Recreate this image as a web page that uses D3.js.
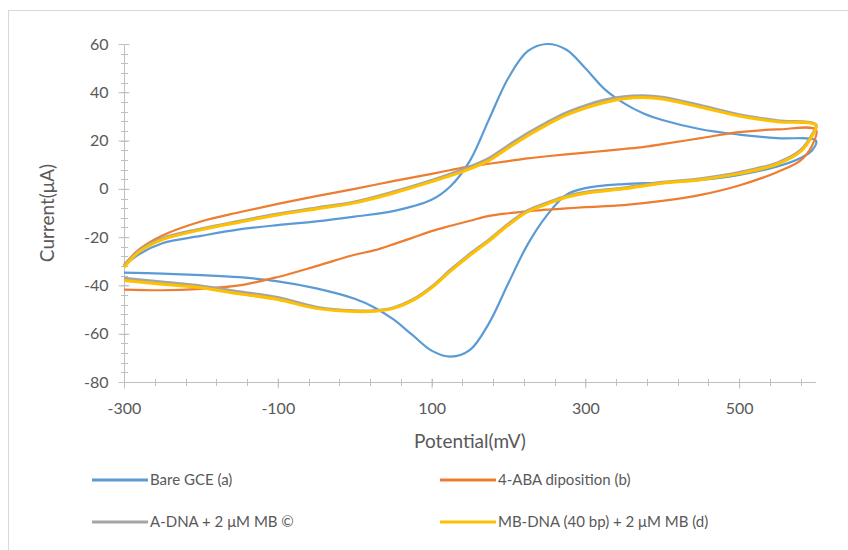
<!DOCTYPE html>
<html>
<head>
<meta charset="utf-8">
<script src="https://cdn.jsdelivr.net/npm/d3@7"></script>
<style>
  body { margin: 0; background: #fff; }
  svg { display: block; }
  text { font-family: Lato, "Open Sans", sans-serif; fill: #595959; }
</style>
</head>
<body>
<svg id="chart" width="848" height="550"></svg>
<script>
// ---- data ----
const fwdPotential = [-300,-280,-250,-200,-150,-100,-50,0,50,100,125,150,175,200,225,250,275,300,325,350,375,400,450,500,550,600];
const revPotential = [595,580,550,500,450,400,350,300,275,250,225,200,175,150,125,100,75,50,25,0,-50,-100,-150,-200,-250,-300];

const bareFwd = [-32,-27,-22.5,-19.5,-16.8,-15,-13.5,-11.5,-9.2,-4.5,1.2,11.7,29,46,57,60,57.7,50,41.3,35.5,31.3,28.5,24.7,22.5,21,20];
const bareRev = [16,12.8,9.3,5.8,3.7,2.6,2,0.3,-2.5,-11,-23,-39,-55.5,-66.7,-69.5,-67,-60.5,-54,-49,-45.5,-41.2,-38.3,-36.6,-35.7,-35.1,-34.7];

const abaFwd = [-31.5,-25,-19.3,-13.5,-9.7,-6.2,-3,0,3.2,6.2,7.8,9.3,10.4,11.5,12.6,13.5,14.3,15,15.7,16.5,17.3,18.5,21,23.5,24.6,24.5];
const abaRev = [18,11.8,7,1.4,-2.5,-5,-6.7,-7.6,-8.1,-8.6,-9.3,-10.1,-11.2,-13.2,-15.3,-17.5,-20.3,-23,-25.5,-27.3,-32,-36.5,-40,-41.4,-42,-41.7];

const adnaFwd = [-32,-25.5,-20.5,-16.6,-13.4,-10.4,-7.9,-5.4,-1.3,3.5,6.2,9.2,12.8,18,23,27.5,31.5,34.5,36.8,38.2,38.6,38,34.5,30.7,28.2,26.5];
const adnaRev = [22.5,16,10.8,6.8,4.2,2.7,0.4,-1.4,-3,-5.8,-9,-14.5,-21,-27,-33.5,-40.6,-46,-49.3,-50.5,-50.5,-49,-45,-42.6,-40.2,-38.6,-37];

const mbFwd = [-32.5,-26,-21,-17,-13.8,-10.8,-8.3,-5.8,-1.8,3,5.5,8.3,11.8,17,22,26.5,30.5,33.5,35.8,37.3,37.8,37.2,33.8,30.2,27.8,26.3];
const mbRev = [22,15.5,10.3,6.3,3.8,2.3,0,-1.8,-3.5,-6.3,-9.5,-15,-21.5,-27.5,-34,-41,-46.3,-49.5,-50.7,-50.8,-49.5,-45.8,-43.5,-41,-39.5,-38];

const seriesNames = ["Bare GCE (a)", "4-ABA diposition (b)", "A-DNA + 2 μM MB ©", "MB-DNA (40 bp) + 2 μM MB (d)"];
const seriesColors = ["#5B9BD5", "#ED7D31", "#A5A5A5", "#FFC000"];
const seriesWidths = [2.2, 2.2, 3, 3];
const seriesFwd = [bareFwd, abaFwd, adnaFwd, mbFwd];
const seriesRev = [bareRev, abaRev, adnaRev, mbRev];

const xTickValues = [-300, -100, 100, 300, 500];
const yTickValues = [60, 40, 20, 0, -20, -40, -60, -80];

// ---- layout ----
const svg = d3.select("#chart");
const pLeft = 124, pRight = 816, pTop = 44, pBottom = 382;
const x = d3.scaleLinear().domain([-300, 600]).range([pLeft, pRight]);
const y = d3.scaleLinear().domain([-80, 60]).range([pBottom, pTop]);
const axisColor = "#BFBFBF";
const fmt = d => d3.format("d")(d).replace("\u2212", "-");

// chart border
svg.append("rect").attr("x", 8.5).attr("y", 10.5).attr("width", 860).attr("height", 560)
  .attr("fill", "none").attr("stroke", "#D9D9D9").attr("stroke-width", 1);

// minor ticks
const yMinor = d3.range(-80, 60.1, 4);
svg.append("g").selectAll("line").data(yMinor).join("line")
  .attr("x1", pLeft - 3).attr("x2", pLeft + 4)
  .attr("y1", d => Math.round(y(d)) + 0.5).attr("y2", d => Math.round(y(d)) + 0.5)
  .attr("stroke", axisColor).attr("stroke-width", 1);
const xMinor = d3.range(-300, 600, 40);
svg.append("g").selectAll("line").data(xMinor).join("line")
  .attr("x1", d => Math.round(x(d)) + 0.5).attr("x2", d => Math.round(x(d)) + 0.5)
  .attr("y1", pBottom - 3).attr("y2", pBottom + 4)
  .attr("stroke", axisColor).attr("stroke-width", 1);

// axes with major ticks
const yAxis = d3.axisLeft(y).tickValues(yTickValues).tickSize(6).tickPadding(10).tickFormat(fmt);
const gy = svg.append("g").attr("transform", `translate(${pLeft + 0.5},0)`).call(yAxis);
gy.select(".domain").attr("stroke", axisColor).attr("d", `M0,${pTop}V${pBottom}`);
gy.selectAll(".tick line").attr("stroke", axisColor).attr("x1", 5);
gy.selectAll(".tick text").attr("font-size", 16).attr("fill", "#595959")
  .style("font-family", "Lato, 'Open Sans', sans-serif");

const xAxis = d3.axisBottom(x).tickValues(xTickValues).tickSize(6).tickPadding(14).tickFormat(fmt);
const gx = svg.append("g").attr("transform", `translate(0,${pBottom + 0.5})`).call(xAxis);
gx.select(".domain").attr("stroke", axisColor).attr("d", `M${pLeft},0H${pRight}`);
gx.selectAll(".tick line").attr("stroke", axisColor).attr("y1", -4);
gx.selectAll(".tick text").attr("font-size", 16).attr("fill", "#595959")
  .style("font-family", "Lato, 'Open Sans', sans-serif");

// axis titles
svg.append("text").attr("x", 470).attr("y", 448).attr("text-anchor", "middle")
  .attr("font-size", 19).text("Potential(mV)");
svg.append("text").attr("transform", "translate(54,213) rotate(-90)").attr("text-anchor", "middle")
  .attr("font-size", 19).text("Current(μA)");

// curves
const line = d3.line().x(d => x(d[0])).y(d => y(d[1])).curve(d3.curveCatmullRom.alpha(0.5));
seriesNames.forEach((name, i) => {
  const pts = fwdPotential.map((v, k) => [v, seriesFwd[i][k]])
    .concat(revPotential.map((v, k) => [v, seriesRev[i][k]]));
  svg.append("path").datum(pts).attr("d", line)
    .attr("fill", "none").attr("stroke", seriesColors[i])
    .attr("stroke-width", seriesWidths[i]).attr("stroke-linejoin", "round");
});

// legend
const legendPos = [[92, 480], [440, 480], [92, 522], [440, 522]];
seriesNames.forEach((name, i) => {
  const [lx, ly] = legendPos[i];
  svg.append("line").attr("x1", lx).attr("x2", lx + 56).attr("y1", ly).attr("y2", ly)
    .attr("stroke", seriesColors[i]).attr("stroke-width", 3);
  svg.append("text").attr("x", lx + 58).attr("y", ly + 5).attr("font-size", 15).text(name);
});
</script>
</body>
</html>
